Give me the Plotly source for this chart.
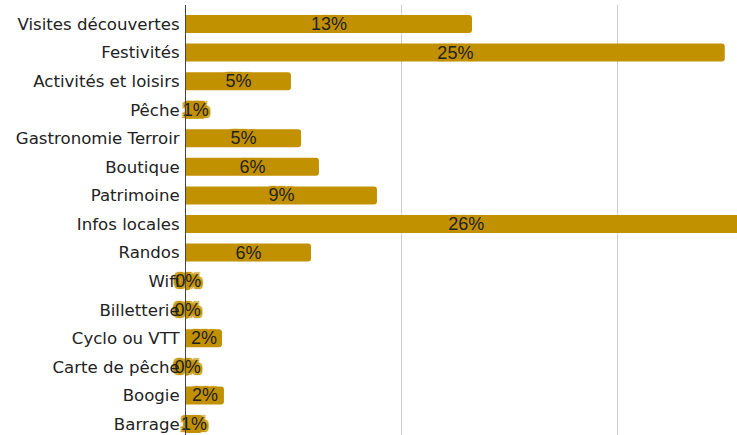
import plotly.graph_objects as go

categories = ["Visites découvertes", "Festivités", "Activités et loisirs", "Pêche",
              "Gastronomie Terroir", "Boutique", "Patrimoine", "Infos locales", "Randos",
              "Wifi", "Billetterie", "Cyclo ou VTT", "Carte de pêche", "Boogie", "Barrage"]
values = [13.27, 25.0, 4.87, 0.9, 5.34, 6.17, 8.86, 26.0, 5.8,
          0.2, 0.15, 1.67, 0.15, 1.76, 0.75]
labels = ["13%", "25%", "5%", "1%", "5%", "6%", "9%", "26%", "6%",
          "0%", "0%", "2%", "0%", "2%", "1%"]

gold = "#C29100"
shadow = ", ".join(f"{dx}px {dy}px 1px {gold}" for dx in (-2, 0, 2) for dy in (-2, 0, 2))

fig = go.Figure(go.Bar(
    x=values, y=categories, orientation="h",
    text=labels, textposition="inside", insidetextanchor="middle",
    textangle=0, cliponaxis=False,
    textfont=dict(family="Liberation Sans, Arial", size=18, color="#222222", shadow=shadow),
    marker=dict(color=gold, cornerradius=3, line=dict(width=0)),
    width=0.63, hoverinfo="skip",
))

fig.update_layout(
    width=750, height=435,
    margin=dict(l=186, r=0, t=5, b=0),
    plot_bgcolor="white", paper_bgcolor="white",
    showlegend=False,
    uniformtext=dict(mode="show", minsize=18),
    xaxis=dict(range=[0, 26.17], dtick=10, showticklabels=False, showgrid=True,
               gridcolor="#cccccc", gridwidth=1, zeroline=False, showline=False),
    yaxis=dict(type="category", categoryorder="array", categoryarray=categories,
               range=[14.385, -0.665], showline=True, linecolor="#444444", linewidth=1,
               ticks="", ticklabelstandoff=2,
               tickfont=dict(family="DejaVu Sans", size=16.6, color="#222222"),
               showgrid=False, zeroline=False),
)

fig.write_html("out.html", config={"displayModeBar": False},
               post_script="document.body.style.margin='0';document.body.style.overflow='hidden';")
